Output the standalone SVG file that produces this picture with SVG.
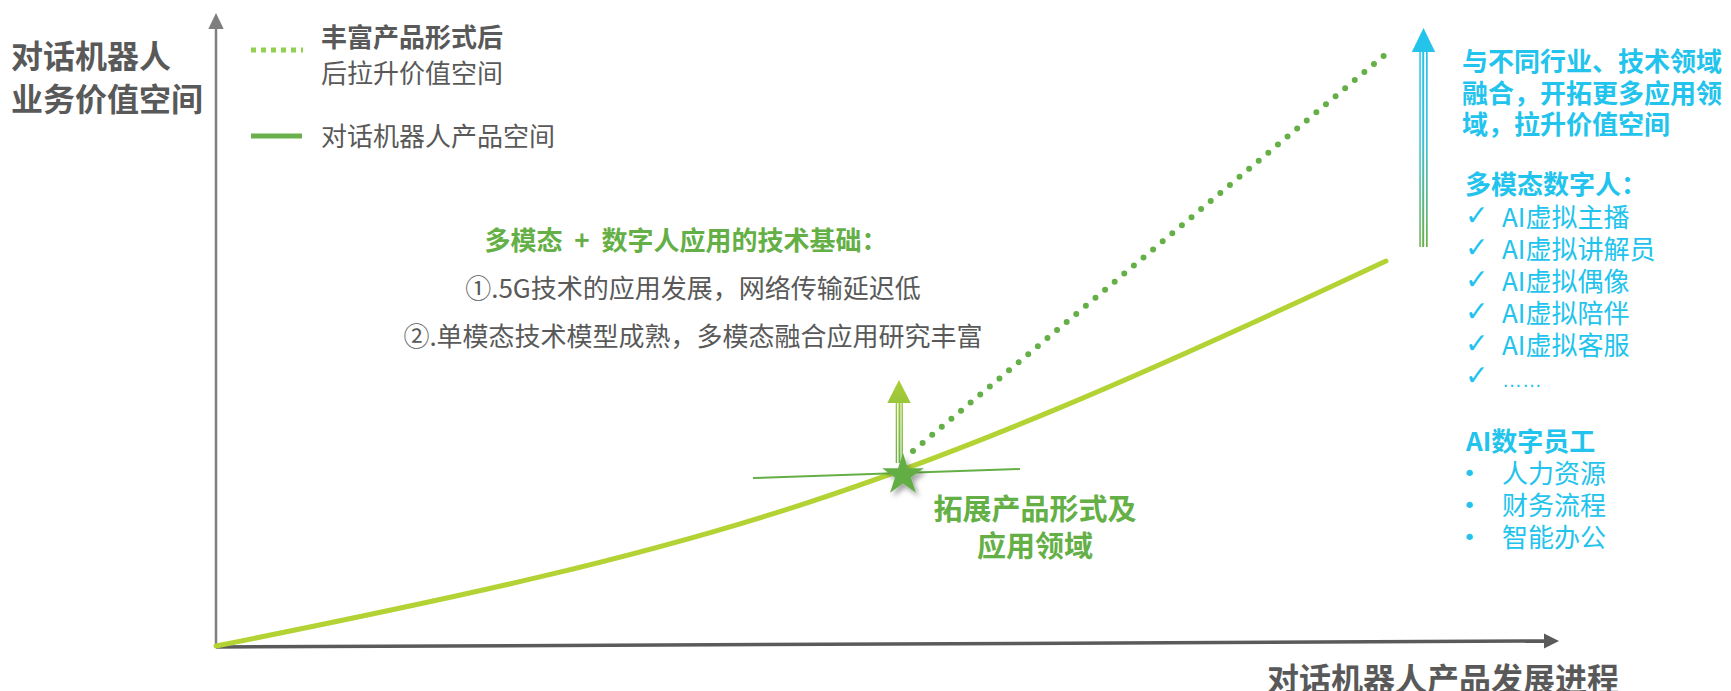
<svg xmlns="http://www.w3.org/2000/svg" width="1731" height="691" viewBox="0 0 1731 691">
<style>
text{font-family:"Noto Sans CJK SC","Liberation Sans",sans-serif}
.gray{fill:#595959}
.b{font-weight:bold}
.green{fill:#64AF46}
.blue{fill:#22C3EC}
.f32{font-size:32px}
.f26{font-size:26px}
.f29{font-size:29px}
.chk{font-family:"DejaVu Sans","Noto Sans CJK SC",sans-serif;font-size:28px}
.dot{font-family:"DejaVu Sans","Noto Sans CJK SC",sans-serif;font-size:22px}
.ell{font-family:"Liberation Sans","DejaVu Sans",sans-serif;font-size:20px}
</style>
<defs>
<linearGradient id="gGreen" gradientUnits="userSpaceOnUse" x1="0" y1="380" x2="0" y2="463">
<stop offset="0" stop-color="#AACD37"/><stop offset="1" stop-color="#6CB244"/>
</linearGradient>
<linearGradient id="gBlue" gradientUnits="userSpaceOnUse" x1="0" y1="28" x2="0" y2="247">
<stop offset="0" stop-color="#1FC4EE"/><stop offset="0.5" stop-color="#3EC0D8"/><stop offset="1" stop-color="#6AB14A"/>
</linearGradient>
<filter id="shadow" x="-50%" y="-50%" width="200%" height="200%">
<feDropShadow dx="3" dy="4" stdDeviation="2.5" flood-color="#000" flood-opacity="0.35"/>
</filter>
</defs>

<g id="axes">
<line x1="216" y1="647" x2="216" y2="28" stroke="#7F7F7F" stroke-width="2.5"/>
<polygon points="216,13 208.3,29 223.7,29" fill="#7F7F7F"/>
<line x1="216" y1="647" x2="1546" y2="641" stroke="#5A5A5A" stroke-width="3.5"/>
<polygon points="1559,641 1544,633.5 1544,648.5" fill="#5A5A5A"/>
</g>

<g id="y-label">
<text class="gray b f32" x="11" y="68">对话机器人</text>
<text class="gray b f32" x="11" y="111">业务价值空间</text>
</g>

<g id="x-label">
<text class="gray b f32" x="1267" y="691">对话机器人产品发展进程</text>
</g>

<g id="legend">
<line x1="251" y1="50" x2="303" y2="50" stroke="#92D050" stroke-width="5" stroke-dasharray="5 5"/>
<text class="gray b f26" x="321" y="47">丰富产品形式后</text>
<text class="gray f26" x="321" y="83">后拉升价值空间</text>
<line x1="251" y1="136" x2="302" y2="136" stroke="#6AB04C" stroke-width="5"/>
<text class="gray f26" x="321" y="146">对话机器人产品空间</text>
</g>

<g id="connectors">
<path id="curve" d="M216,646 C725,544 877,500 1386,261" fill="none" stroke="#B3D335" stroke-width="5" stroke-linecap="round"/>
<line id="tangent" x1="753" y1="478" x2="1020" y2="469" stroke="#64AF46" stroke-width="2"/>
<g id="green-arrow" fill="url(#gGreen)">
<rect x="895.7" y="400" width="1.4" height="63"/>
<rect x="898.5" y="400" width="2" height="63"/>
<rect x="901.5" y="400" width="1.4" height="63"/>
<polygon points="899,380 887.3,403 910.7,403"/>
</g>
<line id="dotted" x1="913" y1="451" x2="1393" y2="48" stroke="#64AF46" stroke-width="6" stroke-linecap="round" stroke-dasharray="0 12.54"/>
<g id="blue-arrow" fill="url(#gBlue)">
<rect x="1419.3" y="50" width="1.5" height="197"/>
<rect x="1422.2" y="50" width="2" height="197"/>
<rect x="1426" y="50" width="1.7" height="197"/>
<polygon points="1423.5,28 1411.8,52 1435.2,52"/>
</g>
</g>

<g id="star">
<polygon filter="url(#shadow)" fill="#62AE45" points="903,453 907.94,468.2 923.92,468.2 910.99,477.6 915.93,492.8 903,483.4 890.07,492.8 895.01,477.6 882.08,468.2 898.06,468.2"/>
</g>

<g id="tech-basis">
<text class="green b f26" x="686" y="250" text-anchor="middle">多模态&#160;&#160;+&#160;&#160;数字人应用的技术基础：</text>
<text class="gray f26" x="693" y="298" text-anchor="middle">①.5G技术的应用发展，网络传输延迟低</text>
<text class="gray f26" x="693" y="346" text-anchor="middle">②.单模态技术模型成熟，多模态融合应用研究丰富</text>
</g>

<g id="expand-label">
<text class="green b f29" x="1035" y="520" text-anchor="middle">拓展产品形式及</text>
<text class="green b f29" x="1035" y="557" text-anchor="middle">应用领域</text>
</g>

<g id="fusion-label">
<text class="blue b f26" x="1462" y="71">与不同行业、技术领域</text>
<text class="blue b f26" x="1462" y="103">融合，开拓更多应用领</text>
<text class="blue b f26" x="1462" y="134">域，拉升价值空间</text>
</g>

<g id="digital-human">
<text class="blue b f26" x="1465" y="194">多模态数字人：</text>
<text class="blue chk" x="1465" y="225">✓</text>
<text class="blue f26" x="1502" y="227">AI虚拟主播</text>
<text class="blue chk" x="1465" y="257">✓</text>
<text class="blue f26" x="1502" y="259">AI虚拟讲解员</text>
<text class="blue chk" x="1465" y="289">✓</text>
<text class="blue f26" x="1502" y="291">AI虚拟偶像</text>
<text class="blue chk" x="1465" y="321">✓</text>
<text class="blue f26" x="1502" y="323">AI虚拟陪伴</text>
<text class="blue chk" x="1465" y="353">✓</text>
<text class="blue f26" x="1502" y="355">AI虚拟客服</text>
<text class="blue chk" x="1465" y="385">✓</text>
<text class="blue ell" x="1502" y="387">……</text>
</g>

<g id="digital-employee">
<text class="blue b f26" x="1466" y="451">AI数字员工</text>
<text class="blue dot" x="1463" y="481">•</text>
<text class="blue f26" x="1502" y="483">人力资源</text>
<text class="blue dot" x="1463" y="513">•</text>
<text class="blue f26" x="1502" y="515">财务流程</text>
<text class="blue dot" x="1463" y="545">•</text>
<text class="blue f26" x="1502" y="547">智能办公</text>
</g>
</svg>
